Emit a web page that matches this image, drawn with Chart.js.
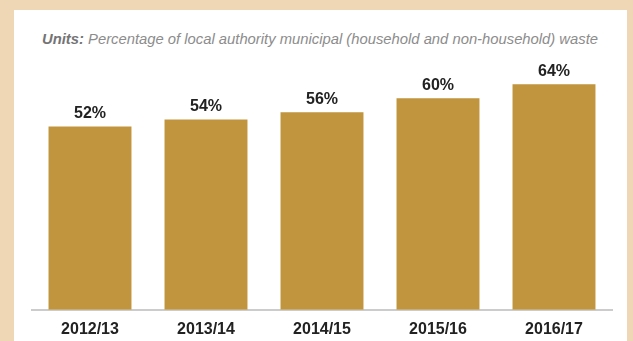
<!DOCTYPE html>
<html>
<head>
<meta charset="utf-8">
<script src="https://cdn.jsdelivr.net/npm/chart.js@4/dist/chart.umd.min.js"></script>
<style>
  html, body { margin: 0; padding: 0; }
  body { width: 633px; height: 341px; background: #efd6b4; position: relative; overflow: hidden; font-family: "Liberation Sans", Arial, sans-serif; }
  #panel { position: absolute; left: 14px; top: 10px; width: 613px; height: 331px; background: #ffffff; }
  #title { position: absolute; left: 42px; top: 31px; font-size: 14.8px; font-style: italic; color: #8c8c8c; white-space: nowrap; }
  #title b { color: #747474; }
  #wrap { position: absolute; left: 0; top: 0; width: 633px; height: 353px; }
</style>
</head>
<body>
<div id="panel"></div>
<div id="title"><b>Units:</b> Percentage of local authority municipal (household and non-household) waste</div>
<div id="wrap"><canvas id="c" width="633" height="353"></canvas></div>
<script>
const categories = ["2012/13", "2013/14", "2014/15", "2015/16", "2016/17"];
const values = [52, 54, 56, 60, 64];
const yMin = 0;
const yMax = 70;

const valueLabels = {
  id: 'valueLabels',
  afterDatasetsDraw(chart) {
    const ctx = chart.ctx;
    const meta = chart.getDatasetMeta(0);
    ctx.save();
    ctx.font = 'bold 16px "Liberation Sans", Arial, sans-serif';
    ctx.fillStyle = '#222222';
    ctx.textAlign = 'center';
    ctx.textBaseline = 'middle';
    meta.data.forEach((bar, i) => {
      ctx.fillText(values[i] + '%', bar.x, bar.y - 12.5);
    });
    ctx.restore();
  }
};

new Chart(document.getElementById('c'), {
  type: 'bar',
  data: {
    labels: categories,
    datasets: [{
      data: values,
      backgroundColor: '#c1953e',
      borderWidth: 0,
      categoryPercentage: 1.0,
      barPercentage: 0.715
    }]
  },
  options: {
    responsive: false,
    animation: false,
    devicePixelRatio: 1,
    layout: { padding: { left: 32, right: 21, top: 63, bottom: 4 } },
    plugins: { legend: { display: false }, tooltip: { enabled: false }, title: { display: false } },
    scales: {
      x: {
        grid: { display: false, drawTicks: false },
        border: { display: true, color: '#cccccc', width: 2 },
        ticks: { color: '#222222', padding: 10, font: { family: '"Liberation Sans", Arial, sans-serif', size: 16, weight: 'bold' } }
      },
      y: { display: false, min: yMin, max: yMax }
    }
  },
  plugins: [valueLabels]
});
</script>
</body>
</html>
